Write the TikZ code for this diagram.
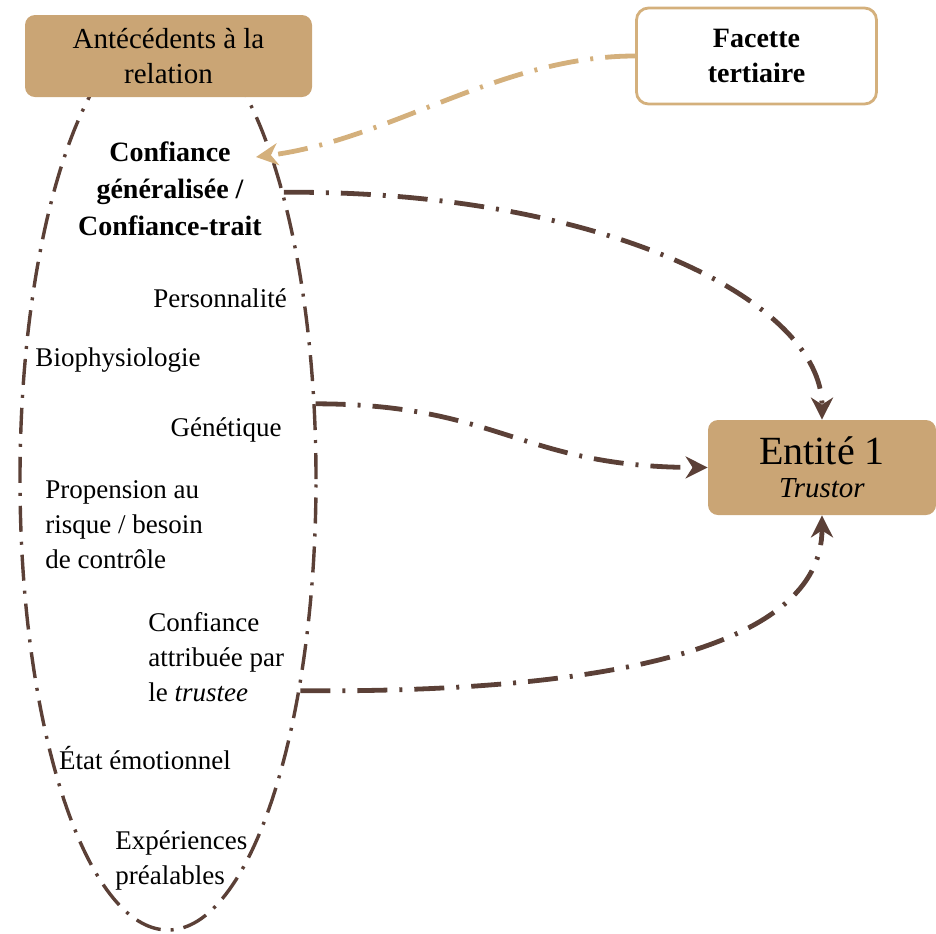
\documentclass[tikz,border=0pt]{standalone}
\usepackage{fontspec}
\setmainfont{Liberation Serif}
\usetikzlibrary{arrows.meta,positioning,shapes.geometric}
\definecolor{tanfill}{RGB}{202,165,117}
\definecolor{tanline}{RGB}{212,176,124}
\definecolor{brun}{RGB}{91,64,55}
\tikzset{
  hbox/.style={rectangle,rounded corners=5pt,fill=tanfill,minimum width=#1,
               align=center,inner sep=0pt,font=\fontsize{14.5}{17.5}\selectfont},
  hbox/.default=143.5pt,
  wbox/.style={rectangle,rounded corners=6pt,draw=tanline,line width=1.4pt,fill=white,
               minimum width=#1,align=center,inner sep=0pt,
               font=\bfseries\fontsize{14}{17.5}\selectfont},
  wbox/.default=120pt,
  lbl/.style={inner sep=0pt,font=\fontsize{13.5}{17.5}\selectfont},
  dashdot/.style={dash pattern=on 15pt off 6pt on 1.5pt off 6pt},
  arr/.style={-{Stealth[length=11pt,width=11pt,inset=3.5pt]},line width=2.4pt,
              color=brun,dashdot},
  arrtan/.style={arr,color=tanline},
}

\begin{document}
\begin{tikzpicture}[x=0.5pt,y=-0.5pt]
    \useasboundingbox (0,0) rectangle (936,933);

    \node[ellipse,draw=brun,line width=1.7pt,minimum width=148pt,minimum height=451pt,
          inner sep=0pt,dash pattern=on 13pt off 5pt on 1.5pt off 5pt] (ell) at (168,479) {};

    \node[hbox,minimum height=41pt] (ante) at (168.5,56) {Antécédents à la\\relation};
    \node[wbox,minimum height=48pt] (fac) at (756.5,56) {Facette\\tertiaire};
    \node[hbox=114pt,minimum height=47.5pt] (ent) at (822,467.5)
      {{\fontsize{20}{21}\selectfont Entité 1}\\[-1pt]\textit{Trustor}};

    % contenu de l'ellipse
    \node[lbl,font=\bfseries\fontsize{14}{18.5}\selectfont,align=center] (conf) at (170,189)
      {Confiance\\généralisée /\\Confiance-trait};
    \node[lbl] (pers) at (220,298) {Personnalité};
    \node[lbl] (bio) at (118,360) {Biophysiologie};
    \node[lbl] (gen) at (226,430) {Génétique};
    \node[lbl,align=left,anchor=west] (risk) at (45,525)
      {Propension au\\risque / besoin\\de contrôle};
    \node[lbl,align=left,anchor=west] (attr) at (148,657)
      {Confiance\\attribuée par\\le \textit{trustee}};
    \node[lbl] (emo) at (145,758) {État émotionnel};
    \node[lbl,align=left,anchor=west] (exp) at (115,860) {Expériences\\préalables};

    \coordinate (cg) at (256,157);

    \draw[arrtan] (fac.west) .. controls (500,56) and (390,140) .. (cg);
    \draw[arr] (ell.68) .. controls (600,190) and (ent.north |- 0,300) .. (ent.north);
    \draw[arr] (ell.27) .. controls (500,404) and (520,467) .. (ent.west);
    \draw[arr] (ell.-58.5) .. controls (600,693) and (ent.south |- 0,650) .. (ent.south);
\end{tikzpicture}
\end{document}
